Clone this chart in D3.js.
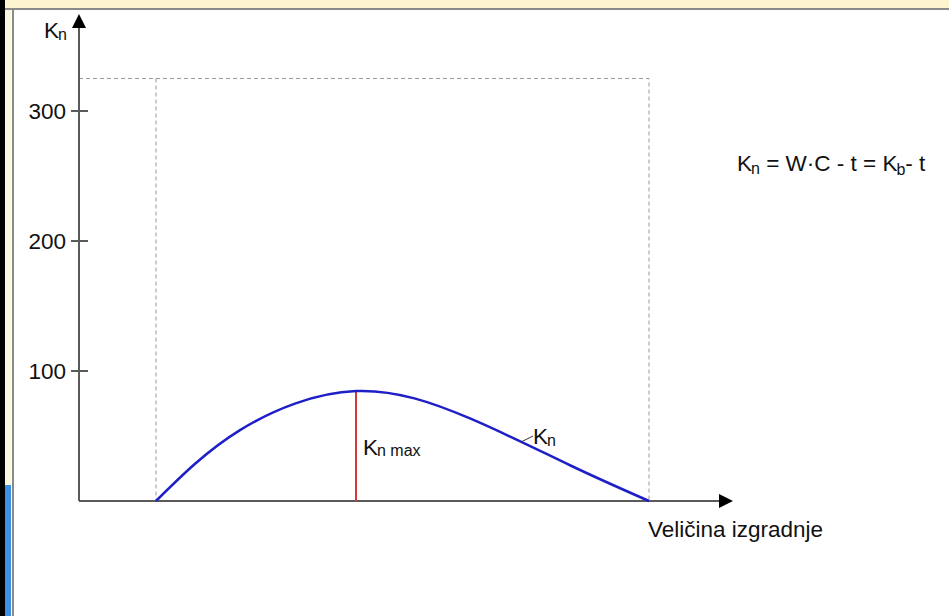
<!DOCTYPE html>
<html>
<head>
<meta charset="utf-8">
<script src="https://cdn.jsdelivr.net/npm/d3@7"></script>
<style>
  body { margin: 0; background: #fff; }
  svg text { font-family: "Liberation Sans", Arial, sans-serif; fill: #111; }
</style>
</head>
<body>
<script>
// curve K_n over building size (x in arbitrary units)
const sizeValues = [77, 161, 277, 391, 491, 570];
const knValues = [0, 54.5, 84.6, 63.5, 27.5, 0];
const yTicks = [100, 200, 300];
const boxTop = 325;
const peakSize = 277;
const peakValue = 84.6;

const width = 949;
const height = 616;

const svg = d3.select("body").append("svg")
  .attr("width", width)
  .attr("height", height);

// slide frame bits
svg.append("rect").attr("x", 0).attr("y", 0).attr("width", width).attr("height", 8).attr("fill", "#fcf5cf");
svg.append("rect").attr("x", 0).attr("y", 8).attr("width", width).attr("height", 2).attr("fill", "#8a8a8a");
svg.append("rect").attr("x", 0).attr("y", 0).attr("width", 5).attr("height", height).attr("fill", "#000");
svg.append("rect").attr("x", 5).attr("y", 10).attr("width", 6).attr("height", height).attr("fill", "#fbf6e0");
svg.append("rect").attr("x", 5).attr("y", 485).attr("width", 6).attr("height", height - 485).attr("fill", "#3d8fe6");
svg.append("rect").attr("x", 12).attr("y", 10).attr("width", 2).attr("height", height).attr("fill", "#8a8a8a");

const x0 = 79, y0 = 501;
const xScale = d3.scaleLinear().domain([0, 650]).range([x0, x0 + 650]);
const yScale = d3.scaleLinear().domain([0, 100]).range([y0, y0 - 130]);

const axisColor = "#5a5a5a";
const fs = 22.5;
const subFs = 16;

// dashed frame
const dash = svg.append("g")
  .attr("fill", "none")
  .attr("stroke", "#999")
  .attr("stroke-width", 1)
  .attr("stroke-dasharray", "4 3");
dash.append("path")
  .attr("d", `M ${xScale(0)} ${yScale(boxTop)} H ${xScale(sizeValues[sizeValues.length - 1])} V ${yScale(0)}`);
dash.append("path")
  .attr("d", `M ${xScale(sizeValues[0])} ${yScale(boxTop)} V ${yScale(0)}`);

// axes
svg.append("line")
  .attr("x1", x0).attr("y1", y0).attr("x2", x0).attr("y2", 26)
  .attr("stroke", axisColor).attr("stroke-width", 2);
svg.append("path")
  .attr("d", `M ${x0} 14 L ${x0 + 7} 28 L ${x0 - 7} 28 Z`)
  .attr("fill", "#000");
svg.append("line")
  .attr("x1", x0).attr("y1", y0).attr("x2", 720).attr("y2", y0)
  .attr("stroke", axisColor).attr("stroke-width", 2);
svg.append("path")
  .attr("d", `M 733 ${y0} L 719 ${y0 - 7} L 719 ${y0 + 7} Z`)
  .attr("fill", "#000");

const tickG = svg.append("g").selectAll("g")
  .data(yTicks)
  .enter()
  .append("g")
  .attr("transform", (d) => `translate(${x0} ${yScale(d)})`);
tickG.append("line")
  .attr("x1", -8).attr("x2", 9)
  .attr("stroke", axisColor).attr("stroke-width", 2);
tickG.append("text")
  .attr("x", -13)
  .attr("dy", "0.36em")
  .attr("text-anchor", "end")
  .attr("font-size", fs)
  .text((d) => d);

// axis labels
svg.append("text")
  .attr("x", 44).attr("y", 38)
  .attr("font-size", fs)
  .html(`K<tspan font-size="${subFs}" dx="-1" dy="2">n</tspan>`);

svg.append("text")
  .attr("x", 648).attr("y", 537)
  .attr("font-size", fs)
  .text("Veličina izgradnje");

// formula
svg.append("text")
  .attr("x", 737).attr("y", 171)
  .attr("font-size", fs)
  .html(`K<tspan font-size="${subFs}" dx="-1" dy="3">n</tspan><tspan dy="-3"> = W·C - t = K</tspan><tspan font-size="${subFs}" dx="-1" dy="4">b</tspan><tspan dy="-4">- t</tspan>`);

// curve
const points = sizeValues.map((s, i) => ({ s, v: knValues[i] }));
const line = d3.line()
  .x((d) => xScale(d.s))
  .y((d) => yScale(d.v))
  .curve(d3.curveNatural);

svg.append("line")
  .attr("x1", xScale(peakSize)).attr("x2", xScale(peakSize))
  .attr("y1", yScale(peakValue)).attr("y2", yScale(0))
  .attr("stroke", "#d03a3a").attr("stroke-width", 2);

svg.append("path")
  .datum(points)
  .attr("d", line)
  .attr("fill", "none")
  .attr("stroke", "#1f1fc8")
  .attr("stroke-width", 2.5);

svg.append("text")
  .attr("x", xScale(peakSize) + 7).attr("y", 455)
  .attr("font-size", fs)
  .html(`K<tspan font-size="${subFs}" dx="-1" dy="1">n max</tspan>`);

svg.append("line")
  .attr("x1", 521).attr("y1", 442).attr("x2", 533).attr("y2", 436)
  .attr("stroke", "#333").attr("stroke-width", 1);
svg.append("text")
  .attr("x", 533).attr("y", 444)
  .attr("font-size", fs)
  .html(`K<tspan font-size="${subFs}" dx="-1" dy="2">n</tspan>`);
</script>
</body>
</html>
